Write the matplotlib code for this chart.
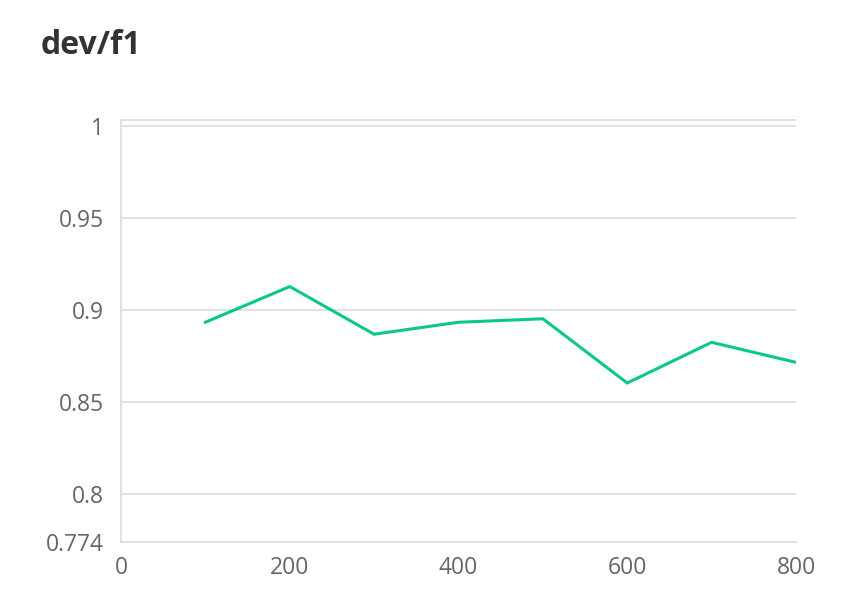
import matplotlib as mpl
import matplotlib.pyplot as plt

mpl.rcParams['font.family'] = ['Open Sans', 'DejaVu Sans']

# dev/f1 per step
steps = [100, 200, 300, 400, 500, 600, 700, 800]
f1 = [0.8934, 0.9128, 0.8869, 0.8934, 0.8953, 0.8604, 0.8825, 0.8716]

y_ticks = [0.774, 0.8, 0.85, 0.9, 0.95, 1]
y_labels = ['0.774', '0.8', '0.85', '0.9', '0.95', '1']
x_ticks = [0, 200, 400, 600, 800]

grid_color = '#dcdcdc'
text_color = '#666666'

fig = plt.figure(figsize=(8.56, 6.02), dpi=100)
ax = fig.add_axes([121 / 856, 1 - 542 / 602, 675 / 856, 422 / 602])

ax.plot(steps, f1, color='#0bc985', linewidth=2.2, solid_joinstyle='miter')

ax.set_xlim(0, 800)
ax.set_ylim(0.774, 1.0033)

# horizontal grid lines only
for y in y_ticks[1:]:
    ax.axhline(y, color=grid_color, linewidth=1.2, zorder=0)

ax.set_yticks(y_ticks)
ax.set_yticklabels(y_labels)
ax.set_xticks(x_ticks)
ax.tick_params(length=0, labelsize=16.5, colors=text_color)
ax.tick_params(axis='y', pad=12)
ax.tick_params(axis='x', pad=10)

ax.spines['right'].set_visible(False)
for side in ['left', 'bottom', 'top']:
    ax.spines[side].set_color(grid_color)
    ax.spines[side].set_linewidth(1.2)

fig.text(41 / 856, 1 - 46 / 602, 'dev/f1', fontsize=23, fontweight='bold',
         color='#333333', va='center', ha='left')

fig.savefig('out.png', dpi=100)
